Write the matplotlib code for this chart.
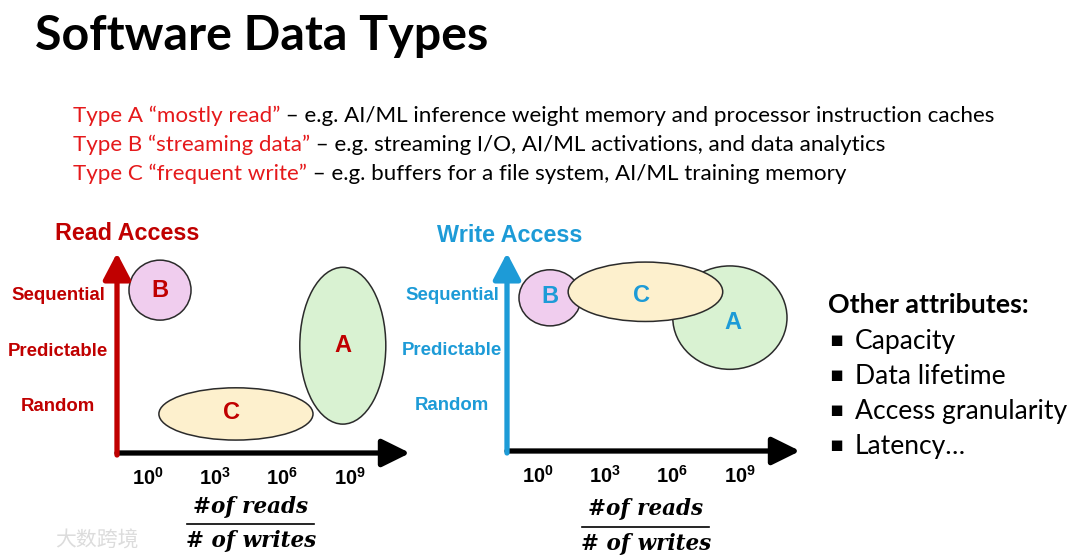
import matplotlib
matplotlib.use('Agg')
import matplotlib.pyplot as plt
from matplotlib.patches import Ellipse

# slide text
title = 'Software Data Types'
type_heads = ['Type A \u201cmostly read\u201d', 'Type B \u201cstreaming data\u201d', 'Type C \u201cfrequent write\u201d']
type_tails = [' \u2013 e.g. AI/ML inference weight memory and processor instruction caches',
              ' \u2013 e.g. streaming I/O, AI/ML activations, and data analytics',
              ' \u2013 e.g. buffers for a file system, AI/ML training memory']
other_title = 'Other attributes:'
other_items = ['Capacity', 'Data lifetime', 'Access granularity', 'Latency\u2026']

# diagram data: x = log10(#reads / #writes), y = access pattern level
access_levels = ['Random', 'Predictable', 'Sequential']
x_ticks = [0, 3, 6, 9]
x_ticklabels = [r'$\mathbf{10^{0}}$', r'$\mathbf{10^{3}}$', r'$\mathbf{10^{6}}$', r'$\mathbf{10^{9}}$']
types = ['A', 'B', 'C']
fills = {'A': '#d9f2d2', 'B': '#f0cdee', 'C': '#fdf0cd'}

# read access: centre x, centre y, width, height (data units)
read_cx = [8.7, 0.54, 3.93]
read_cy = [1.06, 2.07, -0.18]
read_w = [3.84, 2.77, 6.88]
read_h = [2.85, 1.09, 0.95]
read_lbl_x = [8.7, 0.54, 3.75]
read_lbl_y = [1.07, 2.07, -0.15]

# write access
write_cx = [8.57, 0.54, 4.8]
write_cy = [1.57, 1.93, 2.04]
write_w = [5.1, 2.77, 6.9]
write_h = [1.88, 1.02, 1.08]
write_lbl_x = [8.7, 0.54, 4.64]
write_lbl_y = [1.49, 1.95, 1.98]

RED = '#c00000'
BLUE = '#1d9bd7'
TXT_RED = '#e5191b'

plt.rcParams['mathtext.fontset'] = 'custom'
plt.rcParams['mathtext.bf'] = 'Liberation Sans:bold'
plt.rcParams['mathtext.rm'] = 'Liberation Sans'

W, H = 1080, 559
fig = plt.figure(figsize=(W / 100, H / 100), dpi=100)
fig.patch.set_facecolor('white')


def fx(px):
    return px / W


def fy(py):
    return 1 - py / H


fig.text(fx(35), fy(50), title, fontsize=34.8, fontweight='bold', family='Lato',
         ha='left', va='baseline')

renderer = fig.canvas.get_renderer()
for i, (head, tail) in enumerate(zip(type_heads, type_tails)):
    yb = 122 + i * 29
    t1 = fig.text(fx(73), fy(yb), head, fontsize=16.1, family='Lato', color=TXT_RED,
                  ha='left', va='baseline')
    bb = t1.get_window_extent(renderer)
    fig.text(bb.x1 / W, fy(yb), tail, fontsize=16.1, family='Lato', color='black',
             ha='left', va='baseline')

fig.text(fx(828), fy(313), other_title, fontsize=19.3, fontweight='bold', family='Lato',
         ha='left', va='baseline')
for i, item in enumerate(other_items):
    yb = 349 + i * 35
    fig.text(fx(829), fy(yb - 3), '\u25aa', fontsize=15, family='DejaVu Sans',
             ha='left', va='baseline')
    fig.text(fx(855), fy(yb), item, fontsize=19.1, family='Lato', ha='left', va='baseline')


def draw_panel(rect, color, cx, cy, w, h, lx, ly, z_order, ylim, pad):
    ax = fig.add_axes(rect)
    ax.set_xlim(-1.38, 11.7)
    ax.set_ylim(*ylim)
    for s in ax.spines.values():
        s.set_visible(False)
    ax.patch.set_alpha(0)
    for k in z_order:
        e = Ellipse((cx[k], cy[k]), w[k], h[k], facecolor=fills[types[k]],
                    edgecolor='#2b2b2b', lw=1.1, zorder=2 + z_order.index(k))
        ax.add_patch(e)
        ax.text(lx[k], ly[k], types[k], color=color, fontsize=17, fontweight='bold',
                family='Liberation Sans', ha='center', va='center', zorder=10)
    # axis arrows
    ax.annotate('', xy=(1, 0), xytext=(0, 0), xycoords='axes fraction',
                arrowprops=dict(arrowstyle='-|>,head_length=0.85,head_width=0.42',
                                lw=3.8, color='black', shrinkA=0, shrinkB=0,
                                mutation_scale=20), zorder=11)
    ax.annotate('', xy=(0, 1), xytext=(0, -0.01), xycoords='axes fraction',
                arrowprops=dict(arrowstyle='-|>,head_length=0.8,head_width=0.42',
                                lw=3.8, color=color, shrinkA=0, shrinkB=0,
                                mutation_scale=20), zorder=12)
    ax.set_xticks(x_ticks)
    ax.set_xticklabels(x_ticklabels, fontsize=14.5)
    ax.set_yticks(range(len(access_levels)))
    ax.set_yticklabels(access_levels, fontsize=13.4, fontweight='bold',
                       family='Liberation Sans', color=color)
    ax.tick_params(axis='both', length=0)
    ax.tick_params(axis='x', pad=10)
    ax.tick_params(axis='y', pad=pad)
    for t in ax.get_yticklabels():
        t.set_ha('center')
    return ax


ax1 = draw_panel([fx(117), fy(453), fx(410 - 117), (453 - 253) / H], RED,
                 read_cx, read_cy, read_w, read_h, read_lbl_x, read_lbl_y,
                 [0, 1, 2], (-0.89, 2.745), 42.5)
ax2 = draw_panel([fx(507), fy(451), fx(800 - 507), (451 - 253) / H], BLUE,
                 write_cx, write_cy, write_w, write_h, write_lbl_x, write_lbl_y,
                 [1, 0, 2], (-0.855, 2.745), 39.5)

fig.text(fx(127), fy(233), 'Read Access', color=RED, fontsize=16.8, fontweight='bold',
         family='Liberation Sans', ha='center', va='center')
fig.text(fx(510), fy(236), 'Write Access', color=BLUE, fontsize=16.8, fontweight='bold',
         family='Liberation Sans', ha='center', va='center')

# fraction under each x axis
for cxp, ynum, yline, yden, x0, x1 in [(251, 507, 524, 541, 187, 314),
                                       (646, 509, 527, 544, 582, 709)]:
    fig.text(fx(cxp), fy(ynum), '#of reads', fontsize=15.5, fontweight='bold', style='italic',
             family='DejaVu Serif', ha='center', va='center')
    fig.text(fx(cxp), fy(yden), '# of writes', fontsize=15.5, fontweight='bold', style='italic',
             family='DejaVu Serif', ha='center', va='center')
    fig.add_artist(plt.Line2D([fx(x0), fx(x1)], [fy(yline), fy(yline)], color='black', lw=1.2))

# watermark
fig.text(fx(55), fy(541), '\u5927\u6570\u8de8\u5883', fontsize=15, family='Noto Sans CJK SC',
         color='#dcdcdc', ha='left', va='center')

fig.savefig('out.png', dpi=100)
